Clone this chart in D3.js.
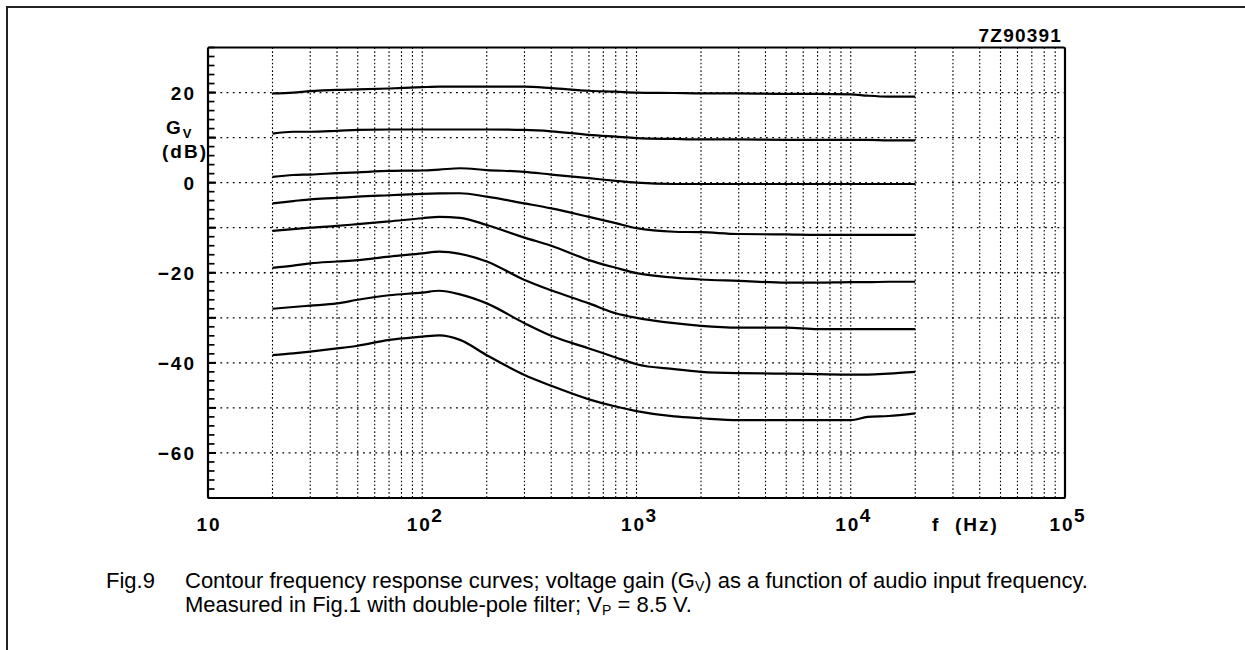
<!DOCTYPE html>
<html>
<head>
<meta charset="utf-8">
<script src="https://cdn.jsdelivr.net/npm/d3@7"></script>
<style>
  html, body { margin: 0; padding: 0; background: #fff; }
  svg { display: block; }
  .tick-label { font-family: "Liberation Sans", Arial, sans-serif; font-weight: bold; font-size: 19px; fill: #000; letter-spacing: 2px; }
  .caption { font-family: "Liberation Sans", Arial, sans-serif; font-size: 22px; fill: #000; }
</style>
</head>
<body>
<div id="chart"></div>
<script>
// ---------------- DATA ----------------
const frequencies = [20, 25, 30, 40, 50, 70, 100, 120, 150, 200, 300, 400, 600, 800, 1000, 1500, 2000, 3000, 5000, 7000, 10000, 12000, 15000, 20000];

const curve1 = [19.8, 20.0, 20.3, 20.6, 20.7, 20.9, 21.2, 21.3, 21.3, 21.3, 21.3, 21.0, 20.4, 20.2, 20.0, 19.9, 19.8, 19.8, 19.7, 19.7, 19.6, 19.3, 19.1, 19.1];
const curve2 = [10.9, 11.3, 11.3, 11.5, 11.7, 11.8, 11.8, 11.8, 11.8, 11.8, 11.7, 11.4, 10.6, 10.2, 9.9, 9.7, 9.6, 9.6, 9.5, 9.5, 9.5, 9.5, 9.4, 9.4];
const curve3 = [1.3, 1.7, 1.8, 2.1, 2.3, 2.6, 2.7, 2.9, 3.2, 2.8, 2.4, 1.8, 1.0, 0.4, 0.0, -0.3, -0.3, -0.3, -0.3, -0.3, -0.3, -0.3, -0.3, -0.3];
const curve4 = [-4.6, -4.1, -3.7, -3.4, -3.1, -2.8, -2.5, -2.4, -2.35, -3.1, -4.6, -5.7, -7.6, -9.0, -10.1, -10.9, -11.0, -11.4, -11.5, -11.6, -11.6, -11.6, -11.6, -11.6];
const curve5 = [-10.7, -10.3, -10.0, -9.6, -9.2, -8.6, -7.9, -7.6, -7.8, -9.4, -12.2, -14.0, -17.2, -18.9, -20.1, -21.1, -21.5, -21.8, -22.2, -22.2, -22.1, -22.1, -22.0, -22.0];
const curve6 = [-18.9, -18.4, -17.9, -17.5, -17.2, -16.4, -15.7, -15.3, -15.8, -17.5, -21.6, -23.9, -26.8, -29.0, -30.0, -31.2, -31.8, -32.2, -32.2, -32.5, -32.5, -32.5, -32.5, -32.5];
const curve7 = [-28.0, -27.6, -27.3, -26.8, -26.0, -25.0, -24.4, -24.0, -24.8, -26.8, -31.2, -34.0, -36.8, -38.8, -40.3, -41.4, -42.0, -42.3, -42.4, -42.5, -42.6, -42.6, -42.4, -42.0];
const curve8 = [-38.3, -37.9, -37.5, -36.8, -36.2, -34.9, -34.2, -33.9, -34.9, -38.3, -42.7, -45.1, -48.1, -49.7, -50.7, -51.9, -52.3, -52.7, -52.7, -52.7, -52.7, -52.0, -51.8, -51.2];

const yTickValues = [20, 0, -20, -40, -60];
const yTickLabels = ["20", "0", "\u221220", "\u221240", "\u221260"];
const xDecadeValues = [10, 100, 1000, 10000, 100000];
const xDecadeBase = ["10", "10", "10", "10", "10"];
const xDecadeExp = ["", "2", "3", "4", "5"];
const xDomain = [10, 100000];
const yDomain = [-70, 30];
const yGridValues = [20, 10, 0, -10, -20, -30, -40, -50, -60];
const chartCode = "7Z90391";
const yAxisTitle = ["G", "V", "(dB)"];
const xAxisTitle = "f  (Hz)";

// ---------------- LAYOUT ----------------
const W = 1245, H = 650;
const plot = { left: 208, right: 1065, top: 47.5, bottom: 498 };

const svg = d3.select("#chart").append("svg").attr("width", W).attr("height", H);

const x = d3.scaleLog().domain(xDomain).range([plot.left, plot.right]);
const y = d3.scaleLinear().domain(yDomain).range([plot.bottom, plot.top]);

// outer frame (left and top edges visible)
svg.append("path")
  .attr("d", `M7,${H + 5} L7,7 L${W + 5},7`)
  .attr("fill", "none").attr("stroke", "#222").attr("stroke-width", 2);

// vertical grid (20 Hz .. 90 kHz)
const vGrid = [];
for (let d = 10; d < 100000; d *= 10) {
  for (let m = 1; m <= 9; m++) {
    const f = d * m;
    if (f >= 20 && f < 100000) vGrid.push(f);
  }
}
svg.append("g").selectAll("line").data(vGrid).join("line")
  .attr("x1", d => x(d)).attr("x2", d => x(d))
  .attr("y1", plot.top).attr("y2", plot.bottom)
  .attr("stroke", "#000").attr("stroke-width", 1.1)
  .attr("stroke-dasharray", "1.6,2.2");

// horizontal grid
svg.append("g").selectAll("line").data(yGridValues).join("line")
  .attr("x1", plot.left).attr("x2", plot.right)
  .attr("y1", d => y(d)).attr("y2", d => y(d))
  .attr("stroke", "#000").attr("stroke-width", 1.3)
  .attr("stroke-dasharray", "1.8,4.4");

// y minor ticks (every 2 dB)
const yMinor = d3.range(-70, 31, 2);
svg.append("g").selectAll("line").data(yMinor).join("line")
  .attr("x1", plot.left).attr("x2", plot.left + 6.5)
  .attr("y1", d => y(d)).attr("y2", d => y(d))
  .attr("stroke", "#000").attr("stroke-width", 1.7);
svg.append("g").selectAll("line").data(yGridValues).join("line")
  .attr("x1", plot.left).attr("x2", plot.left + 8)
  .attr("y1", d => y(d)).attr("y2", d => y(d))
  .attr("stroke", "#000").attr("stroke-width", 2);

// plot frame
svg.append("rect")
  .attr("x", plot.left).attr("y", plot.top)
  .attr("width", plot.right - plot.left).attr("height", plot.bottom - plot.top)
  .attr("fill", "none").attr("stroke", "#000").attr("stroke-width", 2.2)
  .attr("rx", 1.5);

// curves
const curves = [curve1, curve2, curve3, curve4, curve5, curve6, curve7, curve8];
const line = d3.line()
  .x((d, i) => x(frequencies[i]))
  .y(d => y(d))
  .curve(d3.curveMonotoneX);
svg.append("g").selectAll("path").data(curves).join("path")
  .attr("d", d => line(d))
  .attr("fill", "none").attr("stroke", "#000").attr("stroke-width", 2.2)
  .attr("stroke-linejoin", "round");

// y tick labels
svg.append("g").selectAll("text").data(yTickValues).join("text")
  .attr("class", "tick-label")
  .attr("x", 196).attr("y", d => y(d) + 7)
  .attr("text-anchor", "end")
  .text((d, i) => yTickLabels[i]);

// y axis title: Gv (dB)
const gv = svg.append("text").attr("class", "tick-label").attr("x", 166).attr("y", 134);
gv.append("tspan").text(yAxisTitle[0]);
gv.append("tspan").attr("font-size", "13px").attr("dy", 4).text(yAxisTitle[1]);
svg.append("text").attr("class", "tick-label").attr("x", 162).attr("y", 158)
  .text(yAxisTitle[2]);

// x tick labels (decades)
const xl = svg.append("g").selectAll("g").data(xDecadeValues).join("g");
xl.append("text").attr("class", "tick-label")
  .attr("x", (d, i) => x(d) + (i === 0 ? 1 : -3)).attr("y", 531)
  .attr("text-anchor", "middle")
  .text((d, i) => xDecadeBase[i]);
xl.append("text").attr("class", "tick-label")
  .attr("x", d => x(d) + 9).attr("y", 522)
  .attr("font-size", "14px")
  .text((d, i) => xDecadeExp[i]);

// x axis title
svg.append("text").attr("class", "tick-label")
  .attr("x", 932).attr("y", 531)
  .attr("xml:space", "preserve")
  .style("white-space", "pre")
  .text(xAxisTitle);

// chart code
svg.append("text").attr("class", "tick-label")
  .attr("x", 1062).attr("y", 42).attr("text-anchor", "end")
  .attr("font-size", "18px").style("letter-spacing", "1.2px")
  .text(chartCode);

// caption
const cap1 = svg.append("text").attr("class", "caption").attr("y", 588);
cap1.append("tspan").attr("x", 106).text("Fig.9");
cap1.append("tspan").attr("x", 185).text("Contour frequency response curves; voltage gain (G");
cap1.append("tspan").attr("font-size", "14px").attr("dy", 3).text("V");
cap1.append("tspan").attr("dy", -3).text(") as a function of audio input frequency.");
const cap2 = svg.append("text").attr("class", "caption").attr("y", 612);
cap2.append("tspan").attr("x", 185).text("Measured in Fig.1 with double-pole filter; V");
cap2.append("tspan").attr("font-size", "14px").attr("dy", 3).text("P");
cap2.append("tspan").attr("dy", -3).text(" = 8.5 V.");
</script>
</body>
</html>
